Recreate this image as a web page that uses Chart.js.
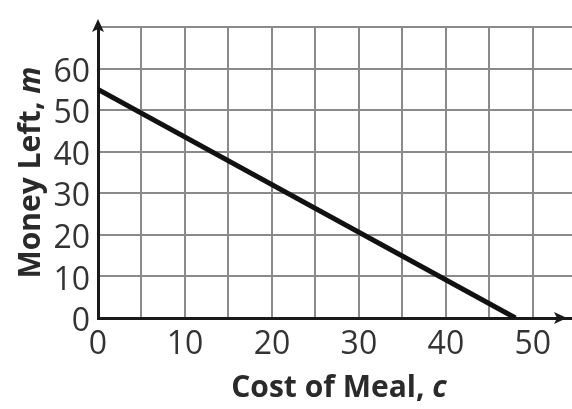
<!DOCTYPE html>
<html>
<head>
<meta charset="utf-8">
<script src="https://cdn.jsdelivr.net/npm/chart.js@4"></script>
<style>
  html, body { margin: 0; padding: 0; background: #fff; }
  #wrap { width: 572px; height: 409px; position: relative; }
</style>
</head>
<body>
<div id="wrap"><canvas id="c"></canvas></div>
<script>
// Data
const costOfMeal = [0, 48];
const moneyLeft = [55, 0];
const xTickLabels = [0, 10, 20, 30, 40, 50];
const yTickLabels = [0, 10, 20, 30, 40, 50, 60];
const xTitle = ["Cost of Meal, ", "c"];
const yTitle = ["Money Left, ", "m"];

const points = costOfMeal.map((c, i) => ({ x: c, y: moneyLeft[i] }));

const titlesAndArrows = {
  id: 'titlesAndArrows',
  afterDraw(chart) {
    const ctx = chart.ctx;
    const a = chart.chartArea;
    const xs = chart.scales.x, ys = chart.scales.y;
    ctx.save();
    // arrows
    ctx.fillStyle = '#1a1a1a';
    const y0 = ys.getPixelForValue(0);
    const x0 = xs.getPixelForValue(0);
    // x arrow
    ctx.beginPath();
    ctx.moveTo(567, y0);
    ctx.lineTo(554, y0 - 6);
    ctx.lineTo(557, y0);
    ctx.lineTo(554, y0 + 6);
    ctx.closePath();
    ctx.fill();
    // y arrow
    ctx.beginPath();
    ctx.moveTo(x0, 19);
    ctx.lineTo(x0 - 6, 32);
    ctx.lineTo(x0, 29);
    ctx.lineTo(x0 + 6, 32);
    ctx.closePath();
    ctx.fill();

    // x title
    const fB = 'bold 30px "Open Sans"';
    const fBI = 'italic bold 30px "Open Sans"';
    ctx.fillStyle = '#2a2a2a';
    ctx.textBaseline = 'alphabetic';
    ctx.textAlign = 'left';
    ctx.font = fB; const w1 = ctx.measureText(xTitle[0]).width;
    ctx.font = fBI; const w2 = ctx.measureText(xTitle[1]).width;
    let sx = (a.left + a.right) / 2 - (w1 + w2) / 2 + 4;
    const by = 397;
    ctx.font = fB; ctx.fillText(xTitle[0], sx, by);
    ctx.font = fBI; ctx.fillText(xTitle[1], sx + w1, by);

    // y title
    ctx.font = fB; const v1 = ctx.measureText(yTitle[0]).width;
    ctx.font = fBI; const v2 = ctx.measureText(yTitle[1]).width;
    ctx.translate(40, (a.top + a.bottom) / 2);
    ctx.rotate(-Math.PI / 2);
    const sy = -(v1 + v2) / 2;
    ctx.font = fB; ctx.fillText(yTitle[0], sy, 0);
    ctx.font = fBI; ctx.fillText(yTitle[1], sy + v1, 0);
    ctx.restore();
  }
};

new Chart(document.getElementById('c'), {
  type: 'scatter',
  data: {
    datasets: [{
      data: points,
      showLine: true,
      borderColor: '#111',
      borderWidth: 5,
      pointRadius: 0,
      fill: false
    }]
  },
  options: {
    responsive: true,
    maintainAspectRatio: false,
    animation: false,
    layout: { padding: { top: 13, right: 0, left: 0, bottom: 0 } },
    plugins: { legend: { display: false }, tooltip: { enabled: false } },
    scales: {
      x: {
        type: 'linear',
        min: 0,
        max: 54.5,
        afterFit(s) { s.height = 91; },
        afterBuildTicks(s) {
          const t = [];
          for (let v = 0; v <= 50; v += 5) t.push({ value: v });
          s.ticks = t;
        },
        ticks: {
          autoSkip: false,
          maxRotation: 0,
          padding: 8,
          color: '#333',
          font: { family: 'Open Sans', size: 32 },
          callback: (v) => xTickLabels.includes(v) ? String(v) : ''
        },
        grid: { color: '#8a8a8a', lineWidth: 2, drawTicks: false },
        border: { color: '#1a1a1a', width: 3 }
      },
      y: {
        type: 'linear',
        min: 0,
        max: 70,
        afterFit(s) { s.width = 98; },
        afterBuildTicks(s) {
          const t = [];
          for (let v = 0; v <= 70; v += 10) t.push({ value: v });
          s.ticks = t;
        },
        ticks: {
          autoSkip: false,
          padding: 8,
          labelOffset: 4,
          color: '#333',
          font: { family: 'Open Sans', size: 32 },
          callback: (v) => yTickLabels.includes(v) ? String(v) : ''
        },
        grid: { color: '#8a8a8a', lineWidth: 2, drawTicks: false },
        border: { color: '#1a1a1a', width: 3 }
      }
    }
  },
  plugins: [titlesAndArrows]
});
</script>
</body>
</html>
